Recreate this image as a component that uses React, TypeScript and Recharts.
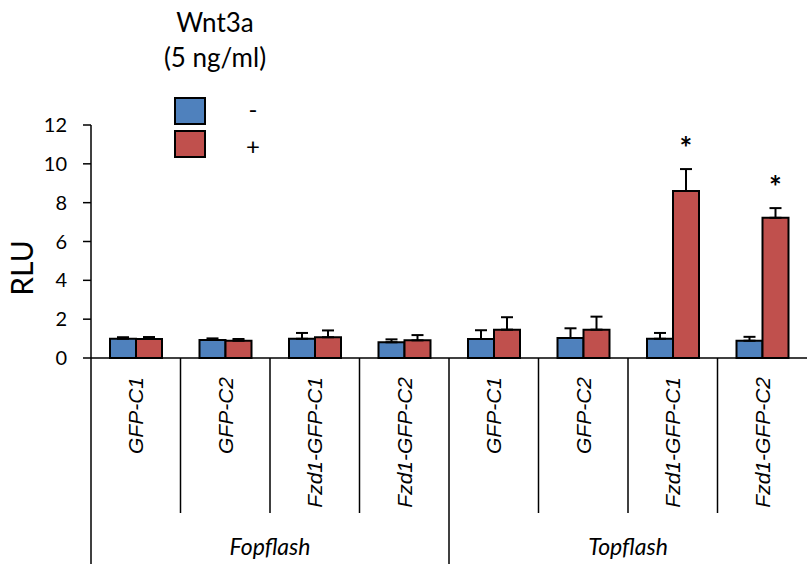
import React from 'react'
import { BarChart, Bar, XAxis, YAxis, ErrorBar, LabelList, Legend } from 'recharts'

const categories = ['GFP-C1', 'GFP-C2', 'Fzd1-GFP-C1', 'Fzd1-GFP-C2', 'GFP-C1', 'GFP-C2', 'Fzd1-GFP-C1', 'Fzd1-GFP-C2']
const groups = ['Fopflash', 'Topflash']
const minusVals = [0.99, 0.93, 0.99, 0.81, 0.98, 1.03, 0.99, 0.89]
const minusErr = [0.08, 0.08, 0.3, 0.15, 0.45, 0.5, 0.3, 0.2]
const plusVals = [0.98, 0.89, 1.07, 0.91, 1.46, 1.46, 8.6, 7.22]
const plusErr = [0.1, 0.09, 0.35, 0.27, 0.64, 0.67, 1.13, 0.5]
const sig = ['', '', '', '', '', '', '*', '*']
const yTicks = [0, 2, 4, 6, 8, 10, 12]

const data = categories.map((name, i) => ({
  name,
  minus: minusVals[i],
  plus: plusVals[i],
  minusErr: [0, minusErr[i]],
  plusErr: [0, plusErr[i]],
  sig: sig[i],
}))

const W = 807
const H = 564
const TOP = 125
const BOTTOM = 206
const AXIS_W = 91
const PLOT_W = W - AXIS_W
const PLOT_H = H - TOP - BOTTOM
const BAND = PLOT_W / categories.length
const AXIS_Y = TOP + PLOT_H
const FONT = 'Lato, "Open Sans", sans-serif'

const BLUE = '#4F81BD'
const RED = '#C0504D'

function CategoryTick(props: any) {
  const { x, payload } = props
  const i = payload.index
  const left = x - BAND / 2
  const isGroupStart = i % 4 === 0
  return (
    <g>
      <line x1={left} x2={left} y1={AXIS_Y} y2={isGroupStart ? H : 513} stroke="#000" strokeWidth={1.5} />
      <text
        x={x}
        y={377}
        transform={`rotate(-90, ${x}, 377)`}
        textAnchor="end"
        dy="0.36em"
        fontFamily='"Liberation Sans", Arial, sans-serif'
        fontStyle="italic"
        fontSize={21}
        fill="#000"
      >
        {payload.value}
      </text>
      {isGroupStart && (
        <text x={left + BAND * 2} y={555} textAnchor="middle" fontFamily={FONT} fontStyle="italic" fontSize={23} fill="#000">
          {groups[i / 4]}
        </text>
      )}
    </g>
  )
}

function Star(props: any) {
  const { x, y, width, value, index } = props
  if (!value) return null
  const errTop = y - plusErr[index] * (PLOT_H / 12)
  return (
    <text x={x + width / 2} y={errTop - 10} textAnchor="middle" fontFamily={FONT} fontWeight="bold" fontSize={30} fill="#000">
      {value}
    </text>
  )
}

function LegendBox() {
  return (
    <svg width={320} height={170} style={{ display: 'block' }}>
      <text x={215} y={32} textAnchor="middle" fontFamily={FONT} fontSize={26} fill="#000">Wnt3a</text>
      <text x={215} y={67} textAnchor="middle" fontFamily={FONT} fontSize={26} fill="#000">(5 ng/ml)</text>
      <rect x={175} y={98} width={30} height={26} fill={BLUE} stroke="#000" strokeWidth={2} />
      <rect x={175} y={131} width={30} height={26} fill={RED} stroke="#000" strokeWidth={2} />
      <text x={253} y={118} textAnchor="middle" fontFamily={FONT} fontSize={24} fill="#000">-</text>
      <text x={253} y={155} textAnchor="middle" fontFamily={FONT} fontSize={24} fill="#000">+</text>
    </svg>
  )
}

export default function App() {
  return (
    <div style={{ position: 'absolute', left: 0, top: 0, width: W, height: H, background: '#fff' }}>
      <BarChart
        width={W}
        height={H}
        data={data}
        margin={{ top: TOP, right: 0, bottom: 0, left: 0 }}
        barGap={0}
        barSize={26}
      >
        <XAxis
          dataKey="name"
          interval={0}
          tickLine={false}
          axisLine={{ stroke: '#000', strokeWidth: 1.5 }}
          tick={<CategoryTick />}
          height={BOTTOM}
        />
        <YAxis
          width={AXIS_W}
          domain={[0, 12]}
          ticks={yTicks}
          interval={0}
          tickSize={8}
          tickMargin={16}
          axisLine={{ stroke: '#000', strokeWidth: 1.5 }}
          tickLine={{ stroke: '#000', strokeWidth: 1.5 }}
          tick={{ fill: '#000', fontSize: 20, fontFamily: FONT }}
          label={{
            content: () => (
              <text x={22} y={268} transform="rotate(-90, 22, 268)" textAnchor="middle" dy="0.36em" fontFamily={FONT} fontSize={30} fill="#000">
                RLU
              </text>
            ),
          }}
        />
        <Legend
          layout="vertical"
          align="center"
          verticalAlign="middle"
          wrapperStyle={{ position: 'absolute', left: 0, top: 0, width: 320, height: 170 }}
          content={() => <LegendBox />}
        />
        <Bar dataKey="minus" fill={BLUE} stroke="#000" strokeWidth={2} isAnimationActive={false}>
          <ErrorBar dataKey="minusErr" width={6} stroke="#000" strokeWidth={2} direction="y" />
        </Bar>
        <Bar dataKey="plus" fill={RED} stroke="#000" strokeWidth={2} isAnimationActive={false}>
          <ErrorBar dataKey="plusErr" width={6} stroke="#000" strokeWidth={2} direction="y" />
          <LabelList dataKey="sig" content={<Star />} />
        </Bar>
      </BarChart>
    </div>
  )
}
